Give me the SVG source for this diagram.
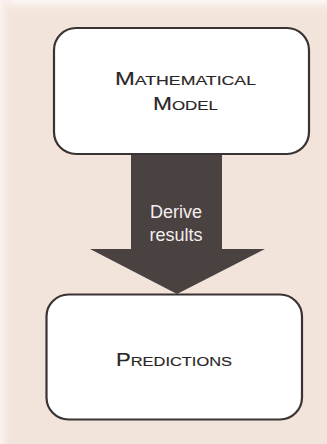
<svg xmlns="http://www.w3.org/2000/svg" width="327" height="444" viewBox="0 0 327 444">
  <defs>
    <linearGradient id="bgTop" x1="0" y1="0" x2="0" y2="1">
      <stop offset="0" stop-color="#fbf7f5"/>
      <stop offset="1" stop-color="#f3e4db" stop-opacity="0"/>
    </linearGradient>
    <linearGradient id="bgLeft" x1="0" y1="0" x2="1" y2="0">
      <stop offset="0" stop-color="#faf3f0"/>
      <stop offset="1" stop-color="#f3e4db" stop-opacity="0"/>
    </linearGradient>
  </defs>
  <style>
    .box { fill: #ffffff; stroke: #3a3333; stroke-width: 2.2; }
    .label { font-family: "Liberation Sans", Arial, sans-serif; fill: #2a2626; text-anchor: middle; stroke: #2a2626; stroke-width: 0.15; }
    .big { font-size: 17.5px; }
    .small { font-size: 13px; }
    .arrowtext { font-family: "Liberation Sans", Arial, sans-serif; font-size: 18px; fill: #f4eeee; text-anchor: middle; }
  </style>
  <rect x="0" y="0" width="327" height="444" fill="#f3e4db"/>
  <rect x="0" y="0" width="327" height="16" fill="url(#bgTop)"/>
  <rect x="0" y="0" width="14" height="444" fill="url(#bgLeft)"/>

  <g id="connectors">
    <polygon id="derive-arrow" points="131,154 222,154 222,249 265,249 177,294 90,249 131,249" fill="#4a4141"/>
    <text class="arrowtext" x="176" y="218">Derive</text>
    <text class="arrowtext" x="176" y="241">results</text>
  </g>

  <g id="model">
    <rect class="box" x="54" y="28" width="255" height="126" rx="22" ry="22"/>
    <text class="label" x="185.5" y="85" textLength="141" lengthAdjust="spacingAndGlyphs"><tspan class="big">M</tspan><tspan class="small">ATHEMATICAL</tspan></text>
    <text class="label" x="185.5" y="109.5" textLength="65" lengthAdjust="spacingAndGlyphs"><tspan class="big">M</tspan><tspan class="small">ODEL</tspan></text>
  </g>

  <g id="predictions">
    <rect class="box" x="46.5" y="294.5" width="255.5" height="125" rx="22" ry="22"/>
    <text class="label" x="174" y="366" textLength="116" lengthAdjust="spacingAndGlyphs"><tspan class="big">P</tspan><tspan class="small">REDICTIONS</tspan></text>
  </g>
</svg>
